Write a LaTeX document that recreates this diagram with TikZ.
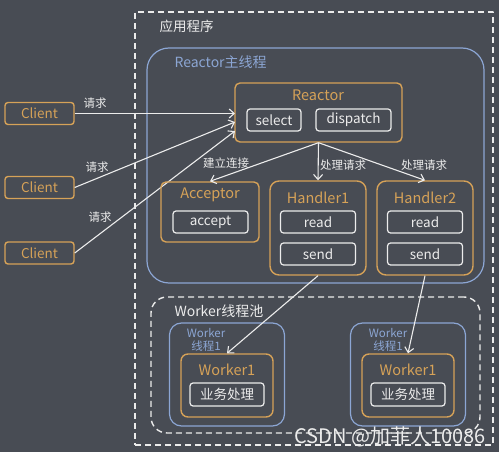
\documentclass[tikz,border=0pt]{standalone}
\usepackage{fontspec}
\setmainfont{Noto Sans CJK SC}
\usetikzlibrary{arrows.meta}
\definecolor{bgc}{RGB}{72,76,84}
\definecolor{org}{RGB}{214,162,88}
\definecolor{blu}{RGB}{140,166,212}
\definecolor{wht}{RGB}{236,236,236}
\tikzset{
  obox/.style={draw=org, line width=1.4pt, rounded corners=5pt, inner sep=0pt},
  wbox/.style={draw=wht, line width=1.2pt, rounded corners=3pt, inner sep=0pt, text=wht, font=\fontsize{13.5}{13.5}\selectfont, minimum height=22pt},
  bbox/.style={draw=blu, line width=1.2pt, inner sep=0pt},
  dbox/.style={draw=wht, line width=1.4pt, dash pattern=on 6pt off 4pt, inner sep=0pt},
  otitle/.style={text=org, font=\fontsize{14.5}{14.5}\selectfont},
  lbl/.style={text=wht, font=\fontsize{11.5}{11.5}\selectfont},
  arr/.style={->, draw=wht, line width=1.1pt},
}
\begin{document}
\begin{tikzpicture}[x=1pt, y=-1pt, >={Straight Barb[length=5pt,width=9pt]}, line join=round]
	\useasboundingbox (0,0) rectangle (499,457);
	\fill[bgc] (0,0) rectangle (499,452);
	% 应用程序
	\node[dbox, minimum width=358pt, minimum height=433pt] (app) at (314,228.5) {};
	\node[anchor=west, text=wht, font=\fontsize{13.5}{13.5}\selectfont] (app-t) at (156,26) {应用程序};
	% Reactor主线程
	\node[bbox, rounded corners=22pt, minimum width=337pt, minimum height=235pt] (main) at (315.5,165.5) {};
	\node[anchor=west, text=blu, font=\fontsize{14}{14}\selectfont] (main-t) at (171,62) {Reactor主线程};
	\node[obox, minimum width=167pt, minimum height=59pt] (reactor) at (318.5,112.5) {};
	\node[otitle] (reactor-t) at (318,95) {Reactor};
	\node[wbox, minimum width=54pt] (select) at (274,120) {select};
	\node[wbox, minimum width=75pt] (dispatch) at (353.5,120) {dispatch};
	% clients
	\foreach \n/\y in {1/113.5, 2/187.5, 3/253}
		\node[obox, rounded corners=3pt, minimum width=69pt, minimum height=22pt, otitle, font=\fontsize{13.5}{13.5}\selectfont] (client\n) at (39.5,\y) {Client};
	\coordinate (in1) at (235,113.5);
	\coordinate (in2) at (235,122);
	\coordinate (in3) at (235,131);
	\foreach \n in {1,2,3} \draw[arr] (client\n.east) -- (in\n);
	\node[lbl] (req1) at (95,103) {请求};
	\node[lbl] (req2) at (97,167) {请求};
	\node[lbl] (req3) at (100,217) {请求};
	% Acceptor / Handler
	\node[obox, minimum width=98pt, minimum height=60pt] (acceptor) at (210,212) {};
	\node[otitle] (acceptor-t) at (210,195) {Acceptor};
	\node[wbox, minimum width=75pt] (accept) at (210.5,222) {accept};
	\foreach \n/\x in {1/318, 2/425} {
		\node[obox, rounded corners=9pt, minimum width=96pt, minimum height=94pt] (h\n) at (\x,228) {};
		\node[otitle] (h\n-t) at (\x,198) {Handler\n};
		\node[wbox, minimum width=75pt] (read\n) at (\x,222) {read};
		\node[wbox, minimum width=75pt] (send\n) at (\x,254) {send};
	}
	\draw[arr] (reactor.south) -- (acceptor.north);
	\draw[arr] (reactor.south) -- (h1.north);
	\draw[arr] (reactor.south) -- (h2.north);
	\node[lbl] (conn) at (226,163) {建立连接};
	\node[lbl] (proc1) at (343,165) {处理请求};
	\node[lbl] (proc2) at (424,165) {处理请求};
	% Worker线程池
	\node[dbox, rounded corners=16pt, minimum width=329pt, minimum height=136pt] (pool) at (315.5,365) {};
	\node[anchor=west, text=wht, font=\fontsize{14}{14}\selectfont] (pool-t) at (171,311) {Worker线程池};
	\foreach \n/\x/\lx in {1/227/206, 2/408/388} {
		\node[bbox, rounded corners=12pt, minimum width=115pt, minimum height=103pt] (wt\n) at (\x,374.5) {};
		\node[text=blu, font=\fontsize{11.5}{12.5}\selectfont, align=center] (wt\n-t) at (\lx,340) {Worker\\线程1};
		\node[obox, rounded corners=7pt, minimum width=92pt, minimum height=63pt] (w\n) at (\x,385.5) {};
		\node[otitle] (w\n-t) at (\x,370) {Worker1};
		\node[wbox, minimum width=74pt, minimum height=23pt] (biz\n) at (\x,394.5) {业务处理};
	}
	\draw[arr] (h1.south) -- (w1.north);
	\draw[arr] (h2.south) -- (w2.north);
	\node[text=wht, font=\fontsize{20}{20}\selectfont] (mark) at (390,437) {CSDN @加菲人10086};
\end{tikzpicture}
\end{document}
